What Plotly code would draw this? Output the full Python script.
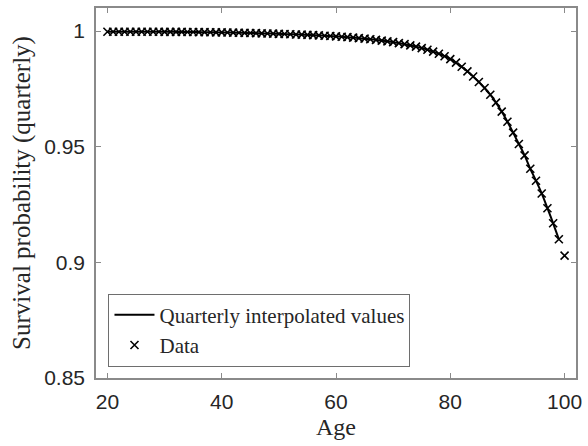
import plotly.graph_objects as go

ages = list(range(20, 101))
survival = [
    0.99975, 0.99975, 0.99974, 0.99974, 0.99974, 0.99974, 0.99973, 0.99973, 0.99972, 0.99971,
    0.99970, 0.99969, 0.99967, 0.99965, 0.99963, 0.99961, 0.99958, 0.99955, 0.99952, 0.99948,
    0.99944, 0.99940, 0.99935, 0.99930, 0.99924, 0.99918, 0.99912, 0.99905, 0.99898, 0.99890,
    0.99882, 0.99874, 0.99865, 0.99856, 0.99847, 0.99837, 0.99826, 0.99814, 0.99801, 0.99787,
    0.99772, 0.99756, 0.99738, 0.99718, 0.99697, 0.99674, 0.99649, 0.99622, 0.99592, 0.99559,
    0.99522, 0.99481, 0.99436, 0.99386, 0.99330, 0.99267, 0.99195, 0.99114, 0.99022, 0.98915,
    0.98790, 0.98635, 0.98460, 0.98260, 0.98040, 0.97800, 0.97540, 0.97250, 0.96910, 0.96520,
    0.96080, 0.95610, 0.95120, 0.94630, 0.94050, 0.93530, 0.92980, 0.92340, 0.91690, 0.91000,
    0.90290,
]
xtick_vals = [20, 40, 60, 80, 100]
ytick_vals = [0.85, 0.9, 0.95, 1]
ytick_text = ["0.85", "0.9", "0.95", "1"]

serif = "Liberation Serif"
sans = "Liberation Sans"
axis_color = "#8a8a8a"
text_color = "#262626"

fig = go.Figure()
fig.add_trace(go.Scatter(
    x=ages[:-1], y=survival[:-1], mode="lines", line_shape="spline",
    line=dict(color="black", width=2),
    name="Quarterly interpolated values",
))
fig.add_trace(go.Scatter(
    x=ages, y=survival, mode="markers",
    marker=dict(symbol="x-thin", size=8, line=dict(color="black", width=1.6), color="black"),
    name="Data",
))

axis_common = dict(
    showgrid=False, zeroline=False, showline=True, linecolor=axis_color, linewidth=1.5,
    mirror="ticks", ticks="inside", ticklen=5, tickwidth=1, tickcolor=axis_color,
    tickfont=dict(family=sans, size=21, color=text_color),
)

fig.update_layout(
    width=588, height=446,
    margin=dict(l=96, r=6, t=8, b=68),
    paper_bgcolor="white", plot_bgcolor="white",
    xaxis=dict(range=[18, 102], tickvals=xtick_vals, ticklabelstandoff=4,
               title=dict(text="Age", font=dict(family=serif, size=24, color=text_color), standoff=6),
               **axis_common),
    yaxis=dict(range=[0.85, 1.01], tickvals=ytick_vals, ticklabelstandoff=5,
               ticktext=ytick_text,
               title=dict(text="Survival probability (quarterly)", font=dict(family=serif, size=25, color=text_color), standoff=6),
               **axis_common),
    legend=dict(x=0.026, y=0.031, xanchor="left", yanchor="bottom",
                bgcolor="white", bordercolor="#6e6e6e", borderwidth=1,
                font=dict(family=serif, size=21, color=text_color),
                tracegroupgap=0, itemwidth=40),
    showlegend=True,
)

fig.write_html("out.html")
